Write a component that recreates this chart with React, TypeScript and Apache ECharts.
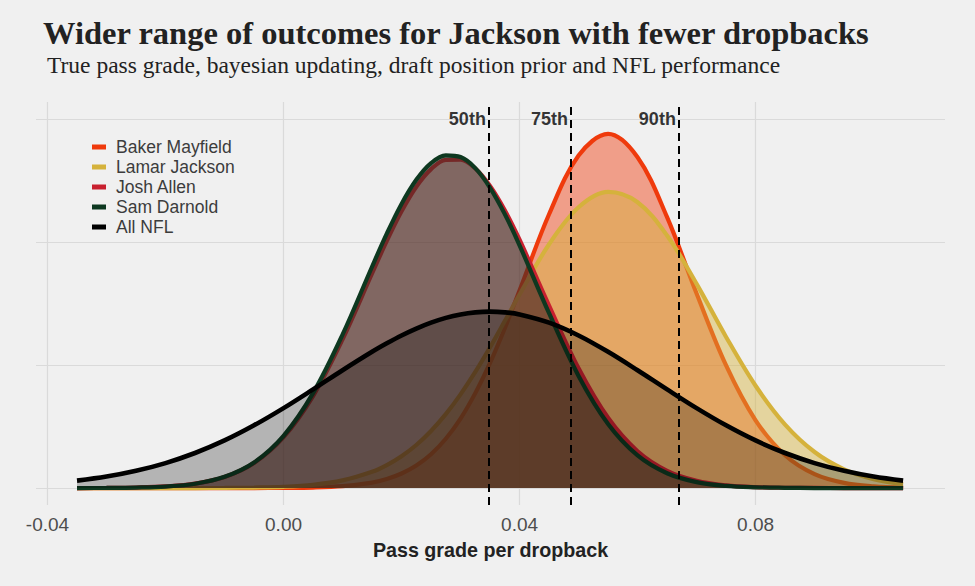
import React, { useEffect, useRef } from "react";
import * as echarts from "echarts";

// Pass grade per dropback (x) and density (y)
const xValues = [
  -0.035, -0.03, -0.025, -0.02, -0.015, -0.01, -0.005, 0, 0.005, 0.01, 0.015, 0.0175, 0.02, 0.0225,
  0.025, 0.0275, 0.03, 0.0325, 0.035, 0.0375, 0.04, 0.045, 0.05, 0.055, 0.06, 0.065, 0.07, 0.075,
  0.08, 0.085, 0.09, 0.095, 0.1, 0.105,
];
const bakerMayfield = [
  0, 0, 0, 0, 0, 0, 0, 0.01, 0.04, 0.15, 0.44, 0.73, 1.18, 1.83, 2.75, 4.01, 5.65, 7.72, 10.18, 13.0,
  16.07, 22.27, 27.04, 28.8, 26.9, 22.03, 15.82, 9.97, 5.51, 2.67, 1.13, 0.42, 0.14, 0.04,
];
const lamarJackson = [
  0, 0, 0, 0, 0, 0.01, 0.04, 0.1, 0.26, 0.62, 1.32, 1.87, 2.59, 3.5, 4.64, 6.01, 7.62, 9.44, 11.45,
  13.58, 15.74, 19.83, 22.84, 24.09, 23.25, 20.54, 16.61, 12.29, 8.32, 5.16, 2.93, 1.52, 0.72, 0.31,
];
const joshAllen = [
  0, 0.01, 0.04, 0.13, 0.36, 0.9, 2.04, 4.14, 7.48, 12.09, 17.45, 20.1, 22.51, 24.51, 25.94, 26.7,
  26.71, 25.99, 24.58, 22.6, 20.2, 14.84, 9.74, 5.71, 2.99, 1.4, 0.59, 0.22, 0.07, 0.02, 0.01, 0, 0,
  0,
];
const samDarnold = [
  0, 0.01, 0.04, 0.12, 0.35, 0.91, 2.08, 4.25, 7.72, 12.48, 18.0, 20.69, 23.11, 25.07, 26.43, 27.06,
  26.92, 26.02, 24.42, 22.28, 19.74, 14.22, 9.12, 5.21, 2.65, 1.2, 0.48, 0.17, 0.06, 0.02, 0, 0, 0,
  0,
];
const allNFL = [
  0.6, 0.93, 1.4, 2.03, 2.85, 3.87, 5.1, 6.5, 8.02, 9.58, 11.08, 11.77, 12.41, 12.97, 13.45, 13.84,
  14.12, 14.29, 14.35, 14.29, 14.12, 13.45, 12.41, 11.08, 9.58, 8.02, 6.5, 5.1, 3.87, 2.85, 2.03,
  1.4, 0.93, 0.6,
];

const seriesNames = ["Baker Mayfield", "Lamar Jackson", "Josh Allen", "Sam Darnold", "All NFL"];
const seriesValues = [bakerMayfield, lamarJackson, joshAllen, samDarnold, allNFL];
const lineColors = ["#ef3a0c", "#d5b23c", "#c8202f", "#0e3820", "#000000"];
const fillColors = [
  "rgba(240,58,10,0.45)",
  "rgba(213,178,58,0.45)",
  "rgba(200,32,47,0.45)",
  "rgba(15,51,32,0.45)",
  "rgba(0,0,0,0.25)",
];

const percentileNames = ["50th", "75th", "90th"];
const percentileValues = [0.0348, 0.0487, 0.067];
const xTickValues = [-0.04, 0, 0.04, 0.08];
const yGridValues = [0, 10, 20, 30];

const SANS = "'Liberation Sans', Arial, sans-serif";
const SERIF = "'Liberation Serif', 'Times New Roman', serif";

export default function App() {
  const ref = useRef<HTMLDivElement>(null);

  useEffect(() => {
    if (!ref.current) return;
    const chart = echarts.init(ref.current, null, { renderer: "svg" });

    const gridLineStyle = { color: "#dadada", width: 1.2, type: "solid" as const };

    const option: any = {
      animation: false,
      backgroundColor: "#f0f0f0",
      title: [
        {
          text: "Wider range of outcomes for Jackson with fewer dropbacks",
          left: 43,
          top: 16,
          padding: 0,
          textStyle: { fontFamily: SERIF, fontWeight: "bold", fontSize: 32.5, color: "#222222" },
        },
        {
          text: "True pass grade, bayesian updating, draft position prior and NFL performance",
          left: 47,
          top: 52.5,
          padding: 0,
          textStyle: { fontFamily: SERIF, fontWeight: "normal", fontSize: 23.5, color: "#222222" },
        },
      ],
      legend: {
        orient: "vertical",
        left: 92,
        top: 138,
        padding: 0,
        itemWidth: 14,
        itemHeight: 5,
        itemGap: 2,
        data: seriesNames.map((n) => ({ name: n, icon: "rect" })),
        textStyle: {
          fontFamily: SANS,
          fontSize: 17.5,
          color: "#3c3c3c",
          padding: [0, 0, 0, 5],
        },
      },
      grid: { left: 36, right: 30, top: 102, bottom: 81 },
      xAxis: {
        type: "value",
        min: -0.04195,
        max: 0.1121,
        axisLine: { show: false },
        axisTick: { show: false },
        splitLine: { show: false },
        axisLabel: {
          customValues: xTickValues,
          formatter: (v: number) => v.toFixed(2),
          fontFamily: SANS,
          fontSize: 19,
          color: "#4d4d4d",
          margin: 10,
        },
        name: "Pass grade per dropback",
        nameLocation: "middle",
        nameGap: 35,
        nameTextStyle: { fontFamily: SANS, fontSize: 19.7, fontWeight: "bold", color: "#222222" },
      },
      yAxis: {
        type: "value",
        min: -1.38,
        max: 31.4,
        axisLine: { show: false },
        axisTick: { show: false },
        axisLabel: { show: false },
        splitLine: { show: false },
      },
      series: [
        {
          name: "grid",
          type: "line",
          data: [[0, 0]],
          symbol: "none",
          lineStyle: { opacity: 0 },
          z: 0,
          silent: true,
          markLine: {
            silent: true,
            symbol: "none",
            z: 1,
            precision: 6,
            label: { show: false },
            lineStyle: gridLineStyle,
            data: [
              ...xTickValues.map((v) => ({ xAxis: v })),
              ...yGridValues.map((v) => ({ yAxis: v })),
            ],
          },
        },
        ...seriesNames.map((name, i) => ({
          name,
          type: "line",
          data: xValues.map((x, j) => [x, seriesValues[i][j]]),
          smooth: 0.35,
          symbol: "none",
          z: 2 + i,
          lineStyle: { color: lineColors[i], width: i === 4 ? 4.6 : 4.2 },
          itemStyle: { color: lineColors[i] },
          areaStyle: { color: fillColors[i], opacity: 1 },
          markLine:
            i === seriesNames.length - 1
              ? {
                  silent: true,
                  symbol: "none",
                  z: 20,
                  precision: 6,
                  label: { show: false },
                  lineStyle: { color: "#000000", width: 2, type: [8, 5] },
                  data: percentileValues.map((v) => ({ xAxis: v })),
                }
              : undefined,
        })),
        {
          name: "percentiles",
          type: "scatter",
          symbolSize: 0,
          z: 30,
          silent: true,
          data: percentileValues.map((v, i) => ({ name: percentileNames[i], value: [v, 30] })),
          label: {
            show: true,
            position: "left",
            distance: 3,
            formatter: "{b}",
            fontFamily: SANS,
            fontSize: 18,
            fontWeight: "bold",
            color: "#000000",
          },
        },
      ],
    };

    chart.setOption(option);
    return () => chart.dispose();
  }, []);

  return (
    <div style={{ position: "fixed", left: 0, top: 0, width: 975, height: 586 }}>
      <div ref={ref} style={{ width: 975, height: 586 }} />
    </div>
  );
}
